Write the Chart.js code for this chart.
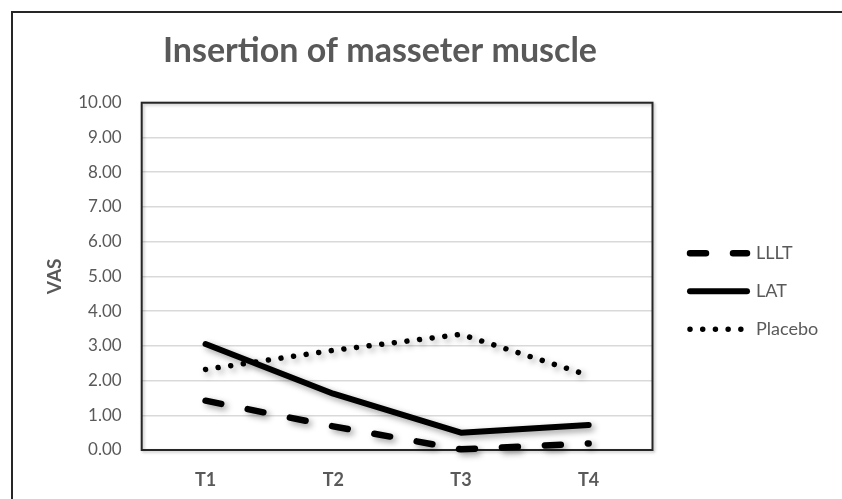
<!DOCTYPE html>
<html><head><meta charset="utf-8">
<script src="https://cdn.jsdelivr.net/npm/chart.js@4.4.1/dist/chart.umd.min.js"></script>
<style>
html,body{margin:0;padding:0;background:#fff;overflow:hidden;width:842px;height:499px;}
#wrap{position:relative;width:842px;height:499px;overflow:hidden;}
#frame{position:absolute;left:11px;top:11px;width:831px;height:488px;border-left:2px solid #262626;border-top:2px solid #262626;box-sizing:border-box;pointer-events:none;}
canvas{position:absolute;left:0;top:0;}
</style></head><body>
<div id="wrap"><canvas id="c" width="842" height="499"></canvas><div id="frame"></div></div>
<script>
const categories = ['T1', 'T2', 'T3', 'T4'];
const seriesNames = ['LLLT', 'LAT', 'Placebo'];
const llltValues = [1.42, 0.68, 0.02, 0.19];
const latValues = [3.05, 1.62, 0.50, 0.72];
const placeboValues = [2.32, 2.87, 3.33, 2.15];
const yTickLabels = ['0.00', '1.00', '2.00', '3.00', '4.00', '5.00', '6.00', '7.00', '8.00', '9.00', '10.00'];
const chartTitle = 'Insertion of masseter muscle';
const yAxisTitle = 'VAS';

const FONT = 'Lato';
const GREY = '#595959';
Chart.defaults.font.family = FONT;
Chart.defaults.color = GREY;

const legendFontSize = 18;
const legendLineW = 57;
const legendBoxW = 140;

const frameAndShadow = {
  id: 'frameAndShadow',
  afterLayout(chart) {
    const t = chart.titleBlock;
    if (t) { t.left = 11; t.right = 749; t.width = 738; }
    const lg = chart.legend;
    if (lg) {
      lg.left = 670; lg.right = 842; lg.width = 172;
      lg.top = 224.3; lg.bottom = 499; lg.height = 499 - 224.3;
    }
  },
  beforeDatasetsDraw(chart) {
    const {ctx, chartArea: a} = chart;
    ctx.save();
    ctx.shadowColor = 'rgba(0,0,0,0.25)';
    ctx.shadowBlur = 3;
    ctx.shadowOffsetX = 1.5;
    ctx.shadowOffsetY = 1.5;
    ctx.strokeStyle = '#262626';
    ctx.lineWidth = 2;
    ctx.strokeRect(a.left, a.top, a.right - a.left, a.bottom - a.top);
    ctx.restore();
    ctx.save();
    ctx.shadowColor = 'rgba(0,0,0,0.38)';
    ctx.shadowBlur = 6;
    ctx.shadowOffsetX = 3;
    ctx.shadowOffsetY = 3;
  },
  afterDatasetsDraw(chart) {
    chart.ctx.restore();
  }
};

const common = {borderColor: '#000', pointRadius: 0, pointHoverRadius: 0, fill: false, tension: 0, clip: false, borderJoinStyle: 'round'};

new Chart(document.getElementById('c'), {
  type: 'line',
  data: {
    labels: categories,
    datasets: [
      Object.assign({}, common, {label: seriesNames[0], data: llltValues, borderWidth: 6.5, borderDash: [16, 27], borderCapStyle: 'round'}),
      Object.assign({}, common, {label: seriesNames[1], data: latValues, borderWidth: 6, borderCapStyle: 'round'}),
      Object.assign({}, common, {label: seriesNames[2], data: placeboValues, borderWidth: 5.5, borderDash: [0.01, 12.7], borderCapStyle: 'round'})
    ]
  },
  options: {
    responsive: false,
    animation: false,
    events: [],
    layout: {padding: {left: 39.6, right: 842 - 652.5 - legendBoxW, top: 0, bottom: 0}},
    scales: {
      x: {
        type: 'category',
        offset: true,
        grid: {display: false, drawTicks: false},
        border: {display: false},
        ticks: {padding: 19, color: GREY, font: {family: FONT, size: 18, weight: 'bold'}},
        afterFit: s => { s.height = 49; }
      },
      y: {
        type: 'linear',
        min: 0, max: 10,
        position: 'left',
        grid: {color: '#d9d9d9', lineWidth: 1.5, drawTicks: false},
        border: {display: false},
        ticks: {stepSize: 1, padding: 20, color: GREY, font: {family: FONT, size: 17},
          callback: (v, i) => yTickLabels[i]},
        title: {display: true, text: yAxisTitle, color: GREY, font: {family: FONT, size: 19, weight: 'bold'}, padding: {top: 4, bottom: 4}},
        afterFit: s => { s.width = 102.1; }
      }
    },
    plugins: {
      title: {
        display: true, text: chartTitle, color: GREY,
        font: {family: FONT, size: 34, weight: 'bold'},
        padding: {top: 30.8, bottom: 31.1}
      },
      legend: {
        display: true,
        position: 'right',
        align: 'start',
        fullSize: false,
        maxWidth: legendBoxW,
        labels: {
          usePointStyle: true,
          pointStyleWidth: legendLineW,
          padding: 20,
          color: GREY,
          font: {family: FONT, size: legendFontSize},
          generateLabels(chart) {
            return chart.data.datasets.map((ds, i) => ({
              text: ds.label,
              fillStyle: 'rgba(0,0,0,0)',
              strokeStyle: ds.borderColor,
              lineWidth: ds.borderWidth,
              lineDash: ds.borderDash || [],
              lineCap: ds.borderCapStyle,
              lineJoin: 'round',
              pointStyle: 'line',
              fontColor: GREY,
              hidden: !chart.isDatasetVisible(i),
              datasetIndex: i
            }));
          }
        }
      },
      tooltip: {enabled: false}
    }
  },
  plugins: [frameAndShadow]
});
</script>
</body></html>
